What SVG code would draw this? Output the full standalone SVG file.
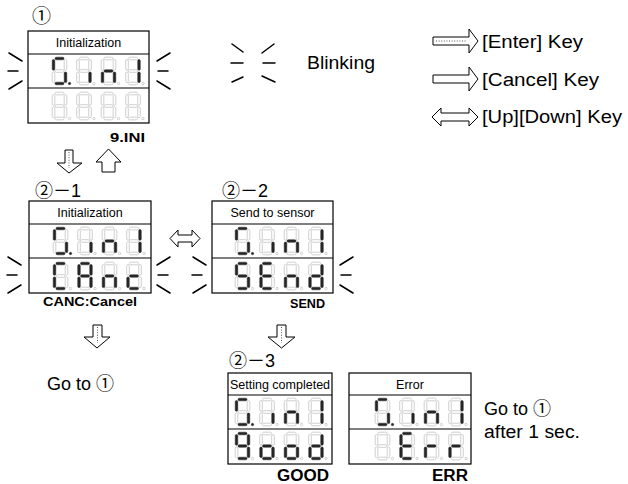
<svg xmlns="http://www.w3.org/2000/svg" width="628" height="484" viewBox="0 0 628 484">
<style>
.off{fill:#fff;stroke:#c4c4c4;stroke-width:.8}
.on{fill:#262626;stroke:#262626;stroke-width:.3}
.box{fill:#fff;stroke:#000;stroke-width:1.2}
.ln{stroke:#000;stroke-width:1.2;fill:none}
.bl{stroke:#000;stroke-width:1.5;fill:none;stroke-linecap:round}
.arr{fill:#fff;stroke:#000;stroke-width:1;stroke-linejoin:miter}
.dot{stroke:#555;stroke-width:1;stroke-dasharray:1 1.6;fill:none}
.t{font-family:"Liberation Sans","Noto Sans CJK JP",sans-serif;fill:#000}
.ttl{font-size:12.5px;text-anchor:middle}
.big{font-size:18px}
.b{font-weight:bold}
</style>
<defs>
<rect id="sa" x="3" y="0.2" width="9" height="2.6" rx="1.2"/>
<rect id="sb" x="12.2" y="2.6" width="2.6" height="10.6" rx="1.2"/>
<rect id="sc" x="12.2" y="15" width="2.6" height="10.6" rx="1.2"/>
<rect id="sd" x="3" y="25.2" width="9" height="2.6" rx="1.2"/>
<rect id="se" x="0.2" y="15" width="2.6" height="10.6" rx="1.2"/>
<rect id="sf" x="0.2" y="2.6" width="2.6" height="10.6" rx="1.2"/>
<rect id="sg" x="3" y="12.7" width="9" height="2.6" rx="1.2"/>
<circle id="sp" cx="17.5" cy="26.5" r="1.2"/>
<g id="d8" class="off"><use href="#sa"/><use href="#sb"/><use href="#sc"/><use href="#sd"/><use href="#se"/><use href="#sf"/><use href="#sg"/><use href="#sp"/></g>
<g id="row9ini">
<g><use href="#d8"/><use href="#sa" class="on"/><use href="#sf" class="on"/><use href="#sc" class="on"/><use href="#sd" class="on"/><use href="#sp" class="on"/></g>
<g transform="translate(24.5,0)"><use href="#d8"/><use href="#sc" class="on"/></g>
<g transform="translate(49,0)"><use href="#d8"/><use href="#sg" class="on"/><use href="#se" class="on"/><use href="#sc" class="on"/></g>
<g transform="translate(73.5,0)"><use href="#d8"/><use href="#sb" class="on"/><use href="#sc" class="on"/></g>
</g>
<g id="rowblank"><use href="#d8"/><use href="#d8" x="24.5"/><use href="#d8" x="49"/><use href="#d8" x="73.5"/></g>
<g id="blinkL"><path class="bl" d="M1,0 L14,8 M0,18 L10,18 M1,36 L14,28"/></g>
<g id="blinkR"><path class="bl" d="M0,8 L13,0 M1,18 L11,18 M0,28 L13,36"/></g>
</defs>

<g id="legend">
<path class="bl" d="M232,44 L243,52 M231,63 L243,63 M232,82 L243,77 M262,53 L274,44 M263,63 L275,63 M262,76 L275,82"/>
<text class="t" x="307" y="69" font-size="18" textLength="68" lengthAdjust="spacingAndGlyphs">Blinking</text>
<polygon class="arr" points="433,37 469,37 469,29 478,41 469,53 469,45 433,45"/>
<line class="dot" x1="436" y1="41" x2="467" y2="41"/>
<text class="t" x="482" y="48" font-size="18" textLength="101" lengthAdjust="spacingAndGlyphs">[Enter] Key</text>
<polygon class="arr" points="433,75 469,75 469,67 478,79 469,91 469,83 433,83"/>
<text class="t" x="482" y="86" font-size="18" textLength="117" lengthAdjust="spacingAndGlyphs">[Cancel] Key</text>
<polygon class="arr" points="432,117 441,108 441,113 469,113 469,108 478,117 469,126 469,121 441,121 441,126"/>
<text class="t" x="482" y="123" font-size="18" textLength="140" lengthAdjust="spacingAndGlyphs">[Up][Down] Key</text>
</g>

<g id="p1">
<text class="t" x="32" y="23" font-size="19">①</text>
<rect class="box" x="28" y="31" width="121" height="92"/>
<path class="ln" d="M28,54 H149 M28,88 H149"/>
<text class="t ttl" x="88.5" y="47">Initialization</text>
<use href="#row9ini" x="52" y="57"/>
<use href="#rowblank" x="52" y="92"/>
<use href="#blinkL" x="8" y="53"/>
<use href="#blinkR" x="157" y="53"/>
<text class="t b" x="110" y="142" font-size="13" textLength="35" lengthAdjust="spacingAndGlyphs">9.INI</text>
</g>

<g id="p21">
<text class="t big" x="35" y="197">②－1</text>
<rect class="box" x="29" y="201" width="122" height="92"/>
<path class="ln" d="M29,224 H151 M29,258 H151"/>
<text class="t ttl" x="90" y="217">Initialization</text>
<use href="#row9ini" x="53" y="227"/>
<g transform="translate(53,262)">
<g><use href="#d8"/><use href="#sa" class="on"/><use href="#sf" class="on"/><use href="#se" class="on"/><use href="#sd" class="on"/></g>
<g transform="translate(24.5,0)"><use href="#d8"/><use href="#sa" class="on"/><use href="#sb" class="on"/><use href="#sc" class="on"/><use href="#se" class="on"/><use href="#sf" class="on"/><use href="#sg" class="on"/></g>
<g transform="translate(49,0)"><use href="#d8"/><use href="#sg" class="on"/><use href="#se" class="on"/><use href="#sc" class="on"/></g>
<g transform="translate(73.5,0)"><use href="#d8"/><use href="#sg" class="on"/><use href="#se" class="on"/><use href="#sd" class="on"/></g>
</g>
<use href="#blinkL" x="7" y="257"/>
<use href="#blinkR" x="157" y="257"/>
<text class="t b" x="43" y="306" font-size="13" textLength="94" lengthAdjust="spacingAndGlyphs">CANC:Cancel</text>
</g>

<g id="p22">
<text class="t big" x="222" y="197">②－2</text>
<rect class="box" x="212" y="201" width="121" height="92"/>
<path class="ln" d="M212,224 H333 M212,258 H333"/>
<text class="t ttl" x="272.5" y="217">Send to sensor</text>
<use href="#row9ini" x="235" y="227"/>
<g transform="translate(235,262)">
<g><use href="#d8"/><use href="#sa" class="on"/><use href="#sf" class="on"/><use href="#sg" class="on"/><use href="#sc" class="on"/><use href="#sd" class="on"/></g>
<g transform="translate(24.5,0)"><use href="#d8"/><use href="#sa" class="on"/><use href="#sf" class="on"/><use href="#sg" class="on"/><use href="#se" class="on"/><use href="#sd" class="on"/></g>
<g transform="translate(49,0)"><use href="#d8"/><use href="#sg" class="on"/><use href="#se" class="on"/><use href="#sc" class="on"/></g>
<g transform="translate(73.5,0)"><use href="#d8"/><use href="#sb" class="on"/><use href="#sc" class="on"/><use href="#sd" class="on"/><use href="#se" class="on"/><use href="#sg" class="on"/></g>
</g>
<use href="#blinkL" x="192" y="257"/>
<use href="#blinkR" x="340" y="257"/>
<text class="t b" x="290" y="308" font-size="13" textLength="35" lengthAdjust="spacingAndGlyphs">SEND</text>
</g>

<g id="p23">
<text class="t big" x="229" y="367">②－3</text>
<rect class="box" x="228" y="373" width="104" height="91"/>
<path class="ln" d="M228,395 H332 M228,429 H332"/>
<text class="t ttl" x="280" y="389" font-size="12">Setting completed</text>
<use href="#row9ini" x="235" y="398"/>
<g transform="translate(235,432)">
<g><use href="#d8"/><use href="#sa" class="on"/><use href="#sb" class="on"/><use href="#sc" class="on"/><use href="#sd" class="on"/><use href="#sf" class="on"/><use href="#sg" class="on"/></g>
<g transform="translate(24.5,0)"><use href="#d8"/><use href="#sg" class="on"/><use href="#se" class="on"/><use href="#sc" class="on"/><use href="#sd" class="on"/></g>
<g transform="translate(49,0)"><use href="#d8"/><use href="#sg" class="on"/><use href="#se" class="on"/><use href="#sc" class="on"/><use href="#sd" class="on"/></g>
<g transform="translate(73.5,0)"><use href="#d8"/><use href="#sb" class="on"/><use href="#sc" class="on"/><use href="#sd" class="on"/><use href="#se" class="on"/><use href="#sg" class="on"/></g>
</g>
<text class="t b" x="277" y="481" font-size="16" textLength="52" lengthAdjust="spacingAndGlyphs">GOOD</text>
</g>

<g id="perr">
<rect class="box" x="349" y="373" width="122" height="91"/>
<path class="ln" d="M349,395 H471 M349,429 H471"/>
<text class="t ttl" x="410" y="389">Error</text>
<use href="#row9ini" x="375" y="398"/>
<g transform="translate(375,432)">
<g><use href="#d8"/></g>
<g transform="translate(24.5,0)"><use href="#d8"/><use href="#sa" class="on"/><use href="#sf" class="on"/><use href="#sg" class="on"/><use href="#se" class="on"/><use href="#sd" class="on"/></g>
<g transform="translate(49,0)"><use href="#d8"/><use href="#sg" class="on"/><use href="#se" class="on"/></g>
<g transform="translate(73.5,0)"><use href="#d8"/><use href="#sg" class="on"/><use href="#se" class="on"/></g>
</g>
<text class="t b" x="432" y="481" font-size="16" textLength="36" lengthAdjust="spacingAndGlyphs">ERR</text>
</g>

<g id="goto1">
<text class="t big" x="47" y="390">Go to ①</text>
</g>
<g id="goto2">
<text class="t big" x="484" y="415">Go to ①</text>
<text class="t big" x="484" y="438" textLength="96" lengthAdjust="spacingAndGlyphs">after 1 sec.</text>
</g>

<g id="connectors">
<polygon class="arr" points="65,150 73,150 73,163 82,163 69,173 57,163 65,163"/>
<line class="dot" x1="69" y1="152" x2="69" y2="168"/>
<polygon class="arr" points="108.5,149 121,162 115,162 115,172 102,172 102,162 96,162"/>
<polygon class="arr" points="170,238.5 178,230 178,235 192,235 192,230 200,238.5 192,247 192,242 178,242 178,247"/>
<polygon class="arr" points="93,325 102,325 102,337 110,337 97,348 84,337 93,337"/>
<line class="dot" x1="97.5" y1="327" x2="97.5" y2="343"/>
<polygon class="arr" points="277,325 286,325 286,337 295,337 281.5,348 268,337 277,337"/>
<line class="dot" x1="281.5" y1="327" x2="281.5" y2="343"/>
</g>
</svg>
